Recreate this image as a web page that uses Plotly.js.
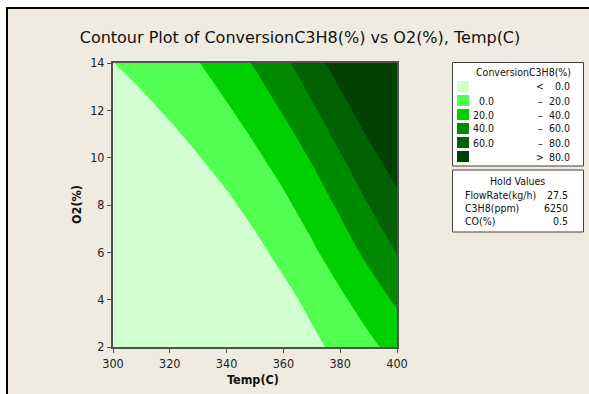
<!DOCTYPE html>
<html><head><meta charset="utf-8">
<script src="https://cdn.plot.ly/plotly-3.0.1.min.js"></script>
<style>
html,body{margin:0;padding:0;background:#fff;width:589px;height:394px;overflow:hidden}
#frame{position:absolute;left:6px;top:7px;width:581px;height:385px;border-left:2px solid #000;border-top:2px solid #000;}
#chart{width:581px;height:385px}
</style></head><body>
<div id="frame"><div id="chart"></div></div>
<script>
// ---- data ----
var temps = [300, 310, 320, 330, 340, 350, 360, 370, 380, 390, 400];
var o2 = [2, 4, 6, 8, 10, 12, 14];
var conversion = [
  [-78.4, -67.9, -57.4, -46.9, -36.4, -25.9, -15.4, -4.9, 5.7, 15.5, 27.0],
  [-68.8, -58.3, -47.8, -37.3, -26.8, -16.3, -5.8, 5.1, 16.6, 29.3, 43.3],
  [-55.0, -45.0, -35.0, -25.0, -15.0, -5.0, 5.6, 16.7, 30.0, 44.8, 60.8],
  [-39.6, -30.6, -21.6, -12.6, -3.6, 6.0, 16.0, 28.6, 43.3, 60.0, 74.3],
  [-24.8, -16.8, -8.8, -0.8, 7.8, 16.5, 28.0, 41.7, 58.3, 73.8, 90.2],
  [-11.7, -4.7, 2.5, 10.1, 17.7, 28.8, 41.5, 56.9, 72.8, 89.9, 107.9],
  [-0.3, 6.2, 12.8, 19.3, 30.2, 41.8, 55.8, 71.7, 89.0, 107.0, 125.0]
];
var levelStart = 0, levelEnd = 80, levelStep = 20;
var legendTitle = "ConversionC3H8(%)";
var legendLow = ["", "0.0", "20.0", "40.0", "60.0", ""];
var legendSym = ["<", "–", "–", "–", "–", ">"];
var legendHigh = ["0.0", "20.0", "40.0", "60.0", "80.0", "80.0"];
var holdTitle = "Hold Values";
var holdNames = ["FlowRate(kg/h)", "C3H8(ppm)", "CO(%)"];
var holdVals = ["27.5", "6250", "0.5"];
var xTicks = [300, 320, 340, 360, 380, 400];
var yTicks = [2, 4, 6, 8, 10, 12, 14];

// ---- style ----
var bandColors = ["#d2ffd2", "#50ff50", "#00d000", "#008a00", "#006200", "#004000"];
var FONT = "DejaVu Sans Condensed, Liberation Sans, Arial, sans-serif";
var TFONT = "DejaVu Sans, Liberation Sans, Arial, sans-serif";
var bg = "#efebe0";
var L = 113, T = 63, W = 284, H = 284; // plot area in page px
function px(x) { return (x - L) / W; }
function py(y) { return (T + H - y) / H; }

var colorscale = bandColors.map(function (c, i) { return [i / (bandColors.length - 1), c]; });

var trace = {
  type: "contour",
  x: temps, y: o2, z: conversion,
  autocontour: false,
  contours: { start: levelStart, end: levelEnd, size: levelStep, coloring: "fill", showlines: false },
  line: { width: 0, smoothing: 1 },
  colorscale: colorscale,
  showscale: false,
  hoverinfo: "skip"
};

var shapes = [], ann = [];
function box(x0, y0, x1, y1, fill, lineColor) {
  shapes.push({ type: "rect", xref: "paper", yref: "paper", x0: px(x0), x1: px(x1), y0: py(y1), y1: py(y0),
    fillcolor: fill, line: { color: lineColor || "rgba(0,0,0,0)", width: lineColor ? 1 : 0 }, layer: "above" });
}
function text(t, x, y, anchor, size, extra) {
  var a = { text: t, xref: "paper", yref: "paper", x: px(x), y: py(y), xanchor: anchor, yanchor: "middle",
    showarrow: false, font: { family: FONT, size: size || 10.5, color: "#111" }, borderpad: 0 };
  if (extra) for (var k in extra) a[k] = extra[k];
  ann.push(a);
}
box(452.5, 62.5, 583.5, 166, "#ffffff", "#404040");
box(452.5, 170, 583.5, 232, "#ffffff", "#404040");
text(legendTitle, 523, 72, "center");
for (var i = 0; i < bandColors.length; i++) {
  var yc = 86.5 + 14 * i;
  box(457, yc - 5.5, 469, yc + 5.5, bandColors[i]);
  if (legendLow[i]) text(legendLow[i], 495, yc, "right");
  text(legendSym[i], 540, yc, "center");
  text(legendHigh[i], 570.5, yc, "right");
}
text(holdTitle, 517, 181, "center");
for (var j = 0; j < holdNames.length; j++) {
  var yh = 194.5 + 13.2 * j;
  text(holdNames[j], 463.5, yh, "left");
  text(holdVals[j], 569, yh, "right");
}
text("<b>Temp(C)</b>", 253, 379, "center", 12.5);
text("<b>O2(%)</b>", 76, 205, "center", 12.5, { textangle: -90 });

var axisCommon = {
  showgrid: false, zeroline: false, showline: true, linecolor: "#505050", linewidth: 2, mirror: true,
  ticks: "outside", ticklen: 4, tickwidth: 1, tickcolor: "#505050",
  tickfont: { family: FONT, size: 12.5, color: "#222" }
};
var layout = {
  width: 581, height: 385,
  margin: { l: 105, r: 192, t: 54, b: 47, pad: 0 },
  paper_bgcolor: bg, plot_bgcolor: bg,
  title: { text: "Contour Plot of ConversionC3H8(%) vs O2(%), Temp(C)", xref: "container", yref: "container",
    x: (300 - 8) / 581, xanchor: "center", y: 1 - (37 - 9) / 385, yanchor: "middle",
    font: { family: TFONT, size: 16, color: "#111" } },
  xaxis: Object.assign({}, axisCommon, { range: [300, 400], tickvals: xTicks, ticktext: xTicks.map(String) }),
  yaxis: Object.assign({}, axisCommon, { range: [2, 14], tickvals: yTicks, ticktext: yTicks.map(String) }),
  shapes: shapes, annotations: ann, showlegend: false
};
Plotly.newPlot("chart", [trace], layout, { staticPlot: true, displayModeBar: false });
</script>
</body></html>
